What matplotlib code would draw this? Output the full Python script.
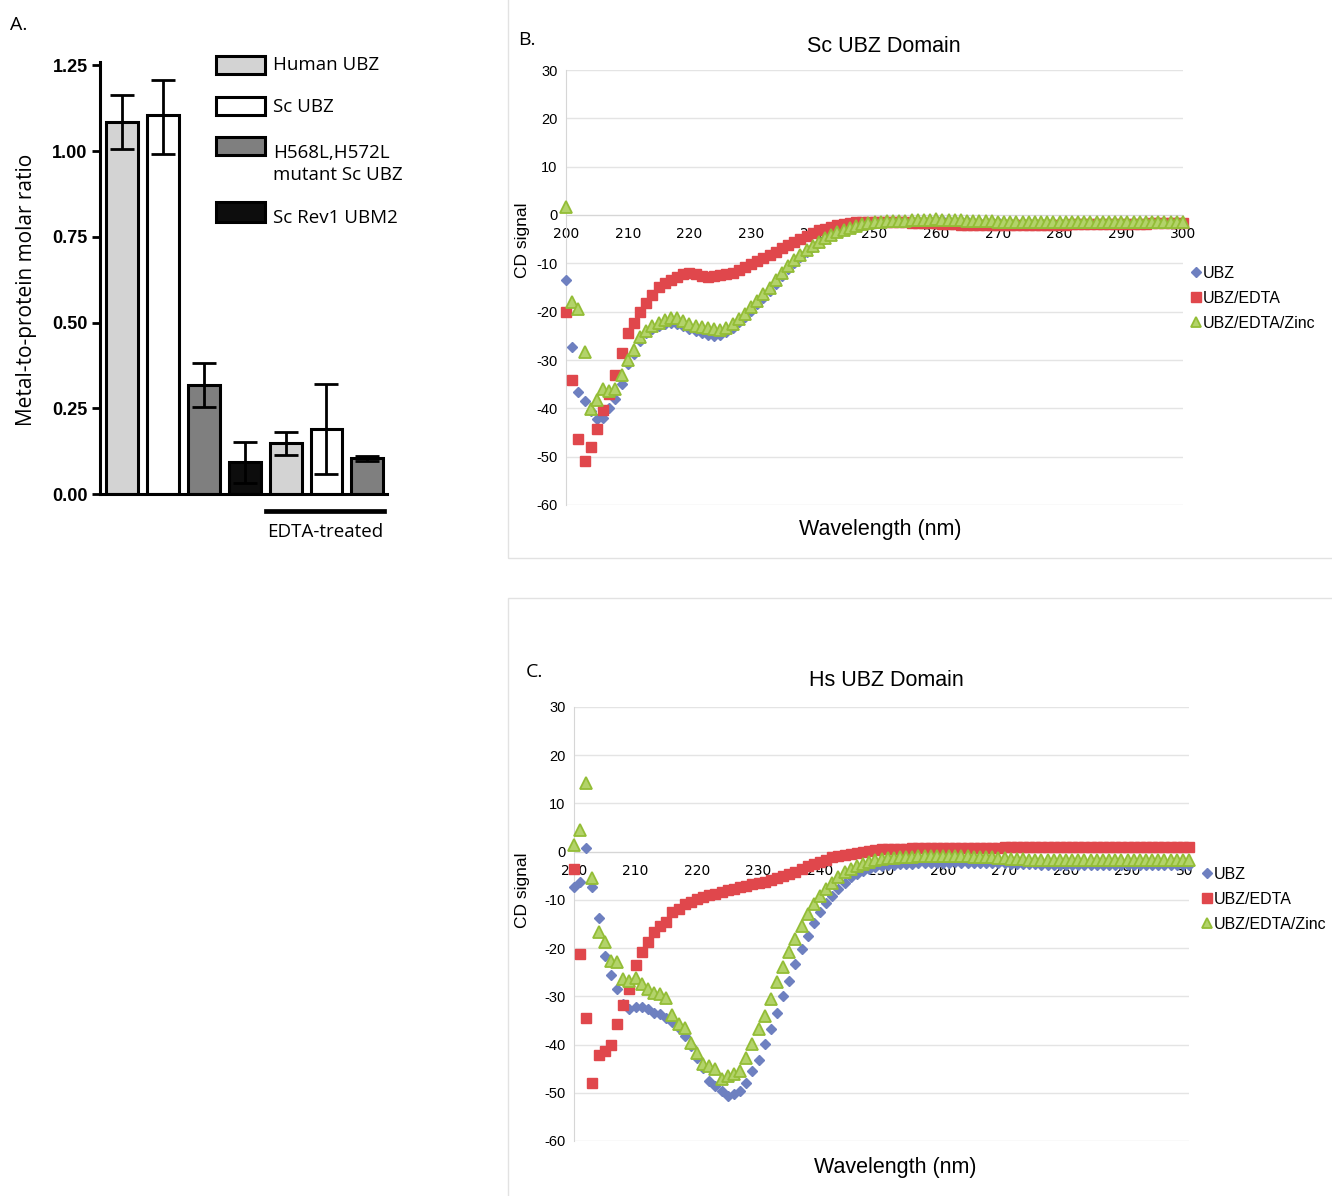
import matplotlib
matplotlib.use('Agg')
import matplotlib.pyplot as plt
from matplotlib.patches import Rectangle
from matplotlib.lines import Line2D
from matplotlib.transforms import Bbox

plt.rcParams['axes.unicode_minus'] = False

# ---------------- Panel A data ----------------
bar_labels = ["Human UBZ", "Sc UBZ", "H568L,H572L mutant Sc UBZ", "Sc Rev1 UBM2",
              "Human UBZ (EDTA)", "Sc UBZ (EDTA)", "mutant Sc UBZ (EDTA)"]
bar_values = [1.085, 1.104, 0.319, 0.092, 0.149, 0.191, 0.105]
err_upper = [0.078, 0.104, 0.062, 0.059, 0.031, 0.130, 0.006]
err_lower = [0.080, 0.111, 0.066, 0.059, 0.034, 0.133, 0.008]
bar_colors = ["#d3d3d3", "#ffffff", "#7f7f7f", "#0d0d0d", "#d3d3d3", "#ffffff", "#7f7f7f"]
legend_A = ["Human UBZ", "Sc UBZ", "H568L,H572L\nmutant Sc UBZ", "Sc Rev1 UBM2"]
yticks_A = [0.00, 0.25, 0.50, 0.75, 1.00, 1.25]

# ---------------- CD data ----------------
wavelength = list(range(200, 301))
xticks_cd = [200, 210, 220, 230, 240, 250, 260, 270, 280, 290, 300]
yticks_cd = [-60, -50, -40, -30, -20, -10, 0, 10, 20, 30]
series_names = ["UBZ", "UBZ/EDTA", "UBZ/EDTA/Zinc"]

sc_ubz = [-13.4, -27.4, -36.6, -38.5, -40.5, -42.2, -42.0, -40.0, -38.0, -35.0,
          -30.8, -28.7, -26.0, -24.5, -23.6, -22.9, -22.5, -22.3, -22.5, -23.0,
          -23.6, -24.0, -24.5, -24.8, -25.0, -24.8, -24.3, -23.4, -22.2, -21.1,
          -19.8, -18.5, -17.1, -15.7, -14.2, -12.6, -11.2, -9.9, -8.7, -7.6,
          -6.6, -5.7, -4.9, -4.2, -3.6, -3.1, -2.7, -2.3, -2.0, -1.8,
          -1.7, -1.6, -1.5, -1.5, -1.4, -1.4, -1.3, -1.3, -1.2, -1.2,
          -1.1, -1.1, -1.2, -1.2, -1.3, -1.3, -1.4, -1.4, -1.5, -1.5,
          -1.5, -1.6, -1.6, -1.6, -1.7, -1.7, -1.7, -1.6, -1.6, -1.7,
          -1.7, -1.7, -1.6, -1.6, -1.6, -1.7, -1.7, -1.6, -1.6, -1.6,
          -1.6, -1.6, -1.7, -1.7, -1.6, -1.6, -1.6, -1.7, -1.6, -1.6, -1.6]
sc_edta = [-20.1, -34.1, -46.4, -50.9, -48.0, -44.2, -40.4, -37.0, -33.0, -28.6,
           -24.5, -22.3, -20.0, -18.3, -16.5, -14.8, -14.1, -13.4, -12.8, -12.3,
           -12.1, -12.2, -12.6, -12.8, -12.6, -12.4, -12.2, -11.9, -11.4, -10.8,
           -10.2, -9.6, -8.9, -8.3, -7.6, -6.9, -6.2, -5.5, -5.0, -4.3,
           -3.8, -3.2, -2.8, -2.4, -2.1, -1.8, -1.6, -1.5, -1.4, -1.4,
           -1.4, -1.4, -1.4, -1.5, -1.5, -1.5, -1.6, -1.6, -1.6, -1.7,
           -1.7, -1.8, -1.9, -1.9, -2.0, -2.0, -2.1, -2.1, -2.1, -2.1,
           -2.1, -2.1, -2.0, -2.0, -2.0, -2.0, -2.0, -2.0, -2.0, -2.0,
           -2.0, -2.0, -1.9, -1.9, -1.9, -1.9, -1.9, -1.9, -1.8, -1.8,
           -1.8, -1.8, -1.8, -1.8, -1.8, -1.7, -1.7, -1.7, -1.7, -1.7, -1.7]
sc_zinc = [1.7, -18.1, -19.4, -28.4, -40.2, -38.2, -35.9, -36.5, -36.0, -33.0,
           -30.0, -28.0, -25.2, -24.0, -23.0, -22.3, -21.8, -21.3, -21.3, -22.0,
           -22.5, -23.0, -23.2, -23.4, -23.6, -23.8, -23.3, -22.5, -21.5, -20.5,
           -19.0, -17.7, -16.3, -15.0, -13.5, -11.9, -10.6, -9.4, -8.3, -7.3,
           -6.4, -5.5, -4.8, -4.1, -3.5, -3.0, -2.6, -2.2, -1.9, -1.7,
           -1.5, -1.4, -1.3, -1.3, -1.2, -1.2, -1.1, -1.1, -1.0, -1.0,
           -0.9, -1.0, -1.0, -1.1, -1.1, -1.2, -1.2, -1.3, -1.3, -1.3,
           -1.4, -1.4, -1.4, -1.4, -1.5, -1.5, -1.4, -1.4, -1.5, -1.5,
           -1.5, -1.5, -1.4, -1.4, -1.5, -1.5, -1.5, -1.4, -1.4, -1.5,
           -1.5, -1.4, -1.4, -1.5, -1.5, -1.4, -1.4, -1.5, -1.4, -1.4, -1.4]

hs_ubz = [-7.4, -6.2, 0.7, -7.3, -13.8, -21.6, -25.6, -28.5, -31.5, -32.7,
          -32.3, -32.3, -32.7, -33.4, -33.7, -34.4, -35.4, -36.5, -38.2, -40.3,
          -42.7, -44.8, -47.5, -48.6, -49.6, -50.7, -50.3, -49.6, -47.9, -45.5,
          -43.3, -39.9, -36.8, -33.4, -29.9, -26.8, -23.3, -20.2, -17.4, -14.7,
          -12.6, -10.7, -9.2, -7.8, -6.4, -5.3, -4.6, -4.0, -3.5, -3.2,
          -3.0, -2.8, -2.7, -2.6, -2.5, -2.5, -2.4, -2.4, -2.3, -2.3,
          -2.3, -2.3, -2.2, -2.3, -2.3, -2.4, -2.4, -2.3, -2.3, -2.4,
          -2.4, -2.5, -2.5, -2.6, -2.6, -2.6, -2.7, -2.7, -2.7, -2.7,
          -2.8, -2.8, -2.8, -2.8, -2.7, -2.7, -2.8, -2.8, -2.8, -2.8,
          -2.8, -2.8, -2.7, -2.7, -2.8, -2.8, -2.8, -2.7, -2.7, -2.7, -2.7]
hs_edta = [-3.6, -21.2, -34.4, -47.9, -42.2, -41.3, -40.1, -35.8, -31.8, -28.4,
           -23.5, -20.8, -18.7, -16.6, -15.4, -14.5, -12.6, -11.9, -10.9, -10.4,
           -9.8, -9.3, -9.0, -8.7, -8.3, -8.0, -7.8, -7.4, -7.1, -6.8,
           -6.6, -6.2, -5.9, -5.5, -5.1, -4.6, -4.2, -3.6, -3.0, -2.6,
           -2.1, -1.7, -1.2, -1.0, -0.7, -0.4, -0.2, 0.0, 0.2, 0.4,
           0.5, 0.5, 0.6, 0.6, 0.6, 0.7, 0.7, 0.7, 0.7, 0.7,
           0.8, 0.8, 0.8, 0.8, 0.8, 0.8, 0.8, 0.8, 0.8, 0.8,
           0.9, 0.9, 0.9, 0.9, 0.9, 0.9, 0.9, 0.9, 0.9, 1.0,
           1.0, 1.0, 1.0, 1.0, 1.0, 1.0, 1.0, 1.0, 1.0, 1.0,
           1.0, 1.0, 1.0, 1.0, 1.0, 1.0, 1.0, 1.0, 1.0, 1.0, 1.0]
hs_zinc = [1.4, 4.5, 14.2, -5.5, -16.7, -18.8, -22.6, -22.8, -26.4, -26.8,
           -26.1, -27.5, -28.4, -29.3, -29.6, -30.3, -33.8, -35.8, -36.5, -39.6,
           -41.7, -44.1, -44.4, -45.1, -47.2, -46.5, -46.2, -45.5, -42.7, -39.9,
           -36.8, -34.0, -30.6, -27.1, -24.0, -20.9, -18.1, -15.4, -12.9, -10.9,
           -9.1, -7.8, -6.4, -5.3, -4.3, -3.6, -3.0, -2.5, -2.1, -1.8,
           -1.6, -1.4, -1.3, -1.2, -1.1, -1.1, -1.0, -1.0, -1.0, -1.0,
           -1.0, -1.0, -1.0, -1.0, -1.0, -1.1, -1.1, -1.1, -1.2, -1.3,
           -1.4, -1.5, -1.6, -1.6, -1.7, -1.7, -1.7, -1.8, -1.8, -1.8,
           -1.8, -1.8, -1.7, -1.7, -1.7, -1.7, -1.7, -1.7, -1.7, -1.7,
           -1.7, -1.7, -1.7, -1.7, -1.7, -1.7, -1.7, -1.7, -1.7, -1.7, -1.7]

# ---------------- Figure ----------------
W, H = 1332, 1196
fig = plt.figure(figsize=(W / 100, H / 100), dpi=100)


def rect(l, t, r, b):
    return [l / W, 1 - b / H, (r - l) / W, (b - t) / H]


def fx(x):
    return x / W


def fy(y):
    return 1 - y / H


SANS_A = ["Open Sans", "DejaVu Sans"]
ARIAL = ["Liberation Sans", "DejaVu Sans"]

# ---------------- Panel A ----------------
axA = fig.add_axes(rect(100, 62, 387, 494))
xpos = list(range(len(bar_values)))
axA.bar(xpos, bar_values, width=0.78, color=bar_colors, edgecolor="black",
        linewidth=2.2, zorder=2)
axA.errorbar(xpos, bar_values, yerr=[err_lower, err_upper], fmt="none",
             ecolor="black", elinewidth=2.0, capsize=8.5, capthick=2.0, zorder=3)
axA.set_xlim(-0.54, 6.48)
axA.set_ylim(0, 1.26)
axA.set_xticks([])
axA.set_yticks(yticks_A)
axA.set_yticklabels([f"{v:.2f}" for v in yticks_A], fontweight="bold",
                    fontsize=13, family=ARIAL)
axA.tick_params(axis="y", length=6, width=2.0, pad=3)
for s in ["top", "right"]:
    axA.spines[s].set_visible(False)
for s in ["left", "bottom"]:
    axA.spines[s].set_linewidth(2.2)
fig.text(fx(27), fy(290), "Metal-to-protein molar ratio", rotation=90,
         ha="center", va="center", fontsize=15, family=SANS_A)
fig.text(fx(10), fy(25), "A.", ha="left", va="center", fontsize=14, family=SANS_A)

# legend boxes
leg_box_y = [65, 106, 146, 212]
leg_text_y = [65, 107, 164, 218]
for i, (lab, by, ty) in enumerate(zip(legend_A, leg_box_y, leg_text_y)):
    hgt = 17 if i < 3 else 19
    fig.add_artist(Rectangle((fx(216), fy(by + hgt / 2)), 49 / W, hgt / H,
                             facecolor=bar_colors[i], edgecolor="black",
                             linewidth=2.2, transform=fig.transFigure))
    fig.text(fx(273), fy(ty), lab, ha="left", va="center", fontsize=13.5,
             family=SANS_A, linespacing=1.3)

fig.add_artist(Line2D([fx(266), fx(384)], [fy(511), fy(511)], lw=3.4,
                      color="black", transform=fig.transFigure))
fig.text(fx(325), fy(532), "EDTA-treated", ha="center", va="center",
         fontsize=13.5, family=SANS_A)

# ---------------- CD panels ----------------
blue = "#6e80c0"
red = "#e0474c"
green_e = "#93bd36"
green_f = "#b3d36a"

for (l, t, r, b) in [(508, -2, 1334, 558), (508, 598, 1334, 1198)]:
    fig.add_artist(Rectangle((fx(l), fy(b)), (r - l) / W, (b - t) / H,
                             facecolor="none", edgecolor="#e2e2e2", lw=1.0,
                             transform=fig.transFigure))


def cd_panel(box, data, title, title_xy, letter, letter_xy, xlab_xy, ylab_xy,
             leg_xy, clip_right=None):
    ax = fig.add_axes(rect(*box))
    ubz, edta, zinc = data
    ax.plot(wavelength, ubz, ls="none", marker="D", ms=5.2, color=blue,
            mec=blue, clip_on=False, zorder=3)
    ax.plot(wavelength, edta, ls="none", marker="s", ms=7.5, color=red,
            mec=red, clip_on=False, zorder=4)
    ax.plot(wavelength, zinc, ls="none", marker="^", ms=8, color=green_f,
            mec=green_e, mew=1.3, clip_on=False, zorder=5)
    ax.set_xlim(200, 300)
    ax.set_ylim(-60, 30)
    ax.set_xticks(xticks_cd)
    ax.set_yticks(yticks_cd)
    ax.set_yticklabels([str(v) for v in yticks_cd], fontsize=10.5, family=ARIAL)
    ax.set_xticklabels([str(v) for v in xticks_cd], fontsize=10.5, family=ARIAL)
    ax.tick_params(length=0)
    ax.tick_params(axis="x", pad=9)
    ax.tick_params(axis="y", pad=6)
    ax.yaxis.grid(True, color="#e4e4e4", lw=1.0, zorder=0)
    ax.set_axisbelow(True)
    ax.spines["top"].set_visible(False)
    ax.spines["right"].set_visible(False)
    ax.spines["bottom"].set_position(("data", 0))
    ax.spines["bottom"].set_color("#d6d6d6")
    ax.spines["left"].set_color("#d6d6d6")
    if clip_right is not None:
        fig.canvas.draw()
        cb = Bbox.from_extents(0, 0, clip_right, H)
        for lab in ax.get_xticklabels():
            lab.set_clip_box(cb)
            lab.set_clip_on(True)
    fig.text(fx(title_xy[0]), fy(title_xy[1]), title, ha="center",
             va="center", fontsize=15.5, family=ARIAL)
    fig.text(fx(letter_xy[0]), fy(letter_xy[1]), letter, ha="center",
             va="center", fontsize=14, family=SANS_A)
    fig.text(fx(xlab_xy[0]), fy(xlab_xy[1]), "Wavelength (nm)", ha="center",
             va="center", fontsize=15.5, family=ARIAL)
    fig.text(fx(ylab_xy[0]), fy(ylab_xy[1]), "CD signal", ha="center",
             va="center", rotation=90, fontsize=12.5, family=ARIAL)
    handles = [
        Line2D([], [], ls="none", marker="D", ms=5.2, color=blue, mec=blue),
        Line2D([], [], ls="none", marker="s", ms=7.0, color=red, mec=red),
        Line2D([], [], ls="none", marker="^", ms=7.5, color=green_f,
               mec=green_e, mew=1.3),
    ]
    ax.legend(handles, series_names, loc="upper left",
              bbox_to_anchor=(fx(leg_xy[0]), fy(leg_xy[1])),
              bbox_transform=fig.transFigure, frameon=False, handlelength=0.5,
              handletextpad=0.15, labelspacing=0.62,
              prop={"family": ARIAL, "size": 11.5}, borderpad=0, borderaxespad=0)
    return ax


cd_panel((566, 70, 1183, 505), (sc_ubz, sc_edta, sc_zinc), "Sc UBZ Domain",
         (884, 47), "B.", (527, 40), (880, 530), (522, 240), (1192, 266))
cd_panel((574, 707, 1189, 1141), (hs_ubz, hs_edta, hs_zinc), "Hs UBZ Domain",
         (886, 680), "C.", (534, 672), (895, 1167), (522, 890), (1203, 867),
         clip_right=1192)

fig.savefig("out.png", dpi=100)
